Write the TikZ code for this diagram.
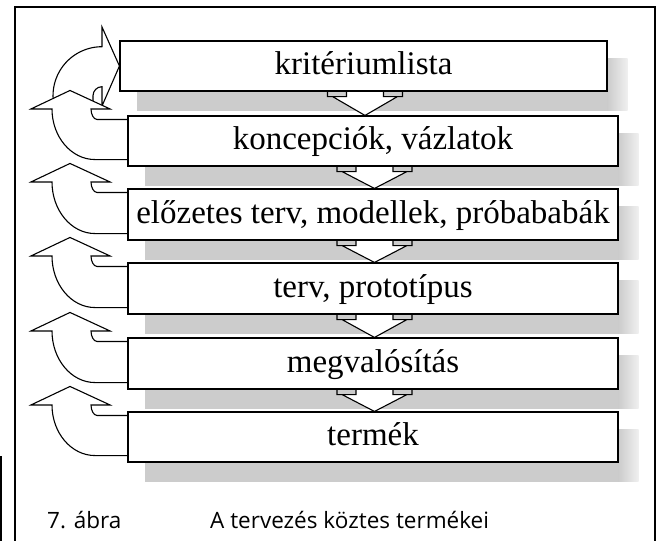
\documentclass[tikz,border=0pt]{standalone}
\usepackage{fontspec}
\setmainfont{Liberation Serif}
\newfontfamily\capfont{Open Sans}
\usetikzlibrary{calc}
\pgfdeclarelayer{shade}
\pgfdeclarelayer{arrows}
\pgfsetlayers{shade,arrows,main}

\tikzset{
  stage/.style={draw, line width=1.1pt, fill=white, minimum height=50pt,
    inner sep=0pt, text height=17pt, text depth=0pt,
    font=\fontsize{33}{37}\selectfont},
  blockarrow/.style={draw, line width=1.1pt, fill=white, line join=miter},
  arrowline/.style={line width=1.1pt},
  shadowgrey/.style={fill=black!20},
  frame/.style={line width=1.2pt},
  caption/.style={font=\capfont\fontsize{22.5}{26}\selectfont, anchor=base west, inner sep=0pt},
}

% grey drop shadow behind a stage box, fading out on its right side
\newcommand\stageshadow[1]{%
  \fill[shadowgrey] ([shift={(18pt,-18pt)}]#1.north west) rectangle ([shift={(0pt,-19pt)}]#1.south east);
  \shade[left color=black!20, right color=black!6] ([shift={(0pt,-18pt)}]#1.north east) rectangle ([shift={(20pt,-19pt)}]#1.south east);}

% curved feedback arrow leaving the left side of a box and pointing up
\newcommand\backarrow[1]{%
  \draw[blockarrow] let \p1=(#1.north west), \p2=(#1.south west) in
    (\x2,\y2+7pt) -- (95pt,\y2+7pt)
    .. controls (71.3pt,\y2+7pt) and (52pt,{\y1+6.5pt-0.552*(\y1-\y2-0.5pt)}) .. (52pt,\y1+6.5pt)
    -- (31pt,\y1+6.5pt) -- (70pt,\y1+25pt) -- (110pt,\y1+6.5pt) -- (91pt,\y1+6.5pt)
    .. controls (91pt,\y1+1pt) and (93.7pt,\y1-4pt) .. (97pt,\y1-4pt) -- (\x1,\y1-4pt);}

% hollow downward arrow from one box to the next
\newcommand\flowarrow[2]{%
  \fill[white] let \p1=(#1.south), \p2=(#2.north) in
    (\x1-17pt,\y1) -- (\x1-17pt,\y1-5pt) -- (\x1-31pt,\y1-5pt) -- (\x1+1.5pt,\y2)
    -- (\x1+34pt,\y1-5pt) -- (\x1+20pt,\y1-5pt) -- (\x1+20pt,\y1) -- cycle;
  \draw[arrowline] let \p1=(#1.south), \p2=(#2.north) in
    (\x1-17pt,\y1) -- (\x1-17pt,\y1-5pt) -- (\x1-36pt,\y1-5pt) -- (\x1-36pt,\y1)
    (\x1+20pt,\y1) -- (\x1+20pt,\y1-5pt) -- (\x1+39pt,\y1-5pt) -- (\x1+39pt,\y1)
    (\x1-31pt,\y1-5pt) -- (\x1+1.5pt,\y2) -- (\x1+34pt,\y1-5pt);}

\begin{document}
\begin{tikzpicture}[x=1pt,y=-1pt]
\useasboundingbox (0,0) rectangle (662,541);

% page frame
\draw[frame] (15,541) -- (15,7) -- (655,7) -- (655,541);
\draw[line width=2pt] (1,456) -- (1,541);

% stages
\node[stage, minimum width=487pt] (b1) at (363.5,66) {kritériumlista};
\node[stage, minimum width=490pt] (b2) at (373,141) {koncepciók, vázlatok};
\node[stage, minimum width=490pt, minimum height=51pt] (b3) at (373,214.5) {előzetes terv, modellek, próbababák};
\node[stage, minimum width=490pt, minimum height=51pt] (b4) at (373,288.5) {terv, prototípus};
\node[stage, minimum width=490pt, minimum height=51pt] (b5) at (373,363.5) {megvalósítás};
\node[stage, minimum width=490pt] (b6) at (373,437) {termék};

\begin{pgfonlayer}{shade}
  \foreach \b in {b1,b2,b3,b4,b5,b6} {\stageshadow{\b}}
\end{pgfonlayer}

\begin{pgfonlayer}{arrows}
  % loop back into the first box
  \draw[blockarrow] (102,46.7) arc[start angle=90, end angle=191, radius=49pt]
    -- (93,105) -- (93,95.7) arc[start angle=180, end angle=90, radius=9pt]
    -- (102,106) -- (b1.west) -- (102,27) -- cycle;
  \foreach \b in {b2,b3,b4,b5,b6} {\backarrow{\b}}
  \flowarrow{b1}{b2}
  \flowarrow{b2}{b3}
  \flowarrow{b3}{b4}
  \flowarrow{b4}{b5}
  \flowarrow{b5}{b6}
\end{pgfonlayer}

% caption
\node[caption] (fig) at (47,528) {7. ábra};
\node[caption] (title) at (210,528) {A tervezés köztes termékei};
\end{tikzpicture}
\end{document}
